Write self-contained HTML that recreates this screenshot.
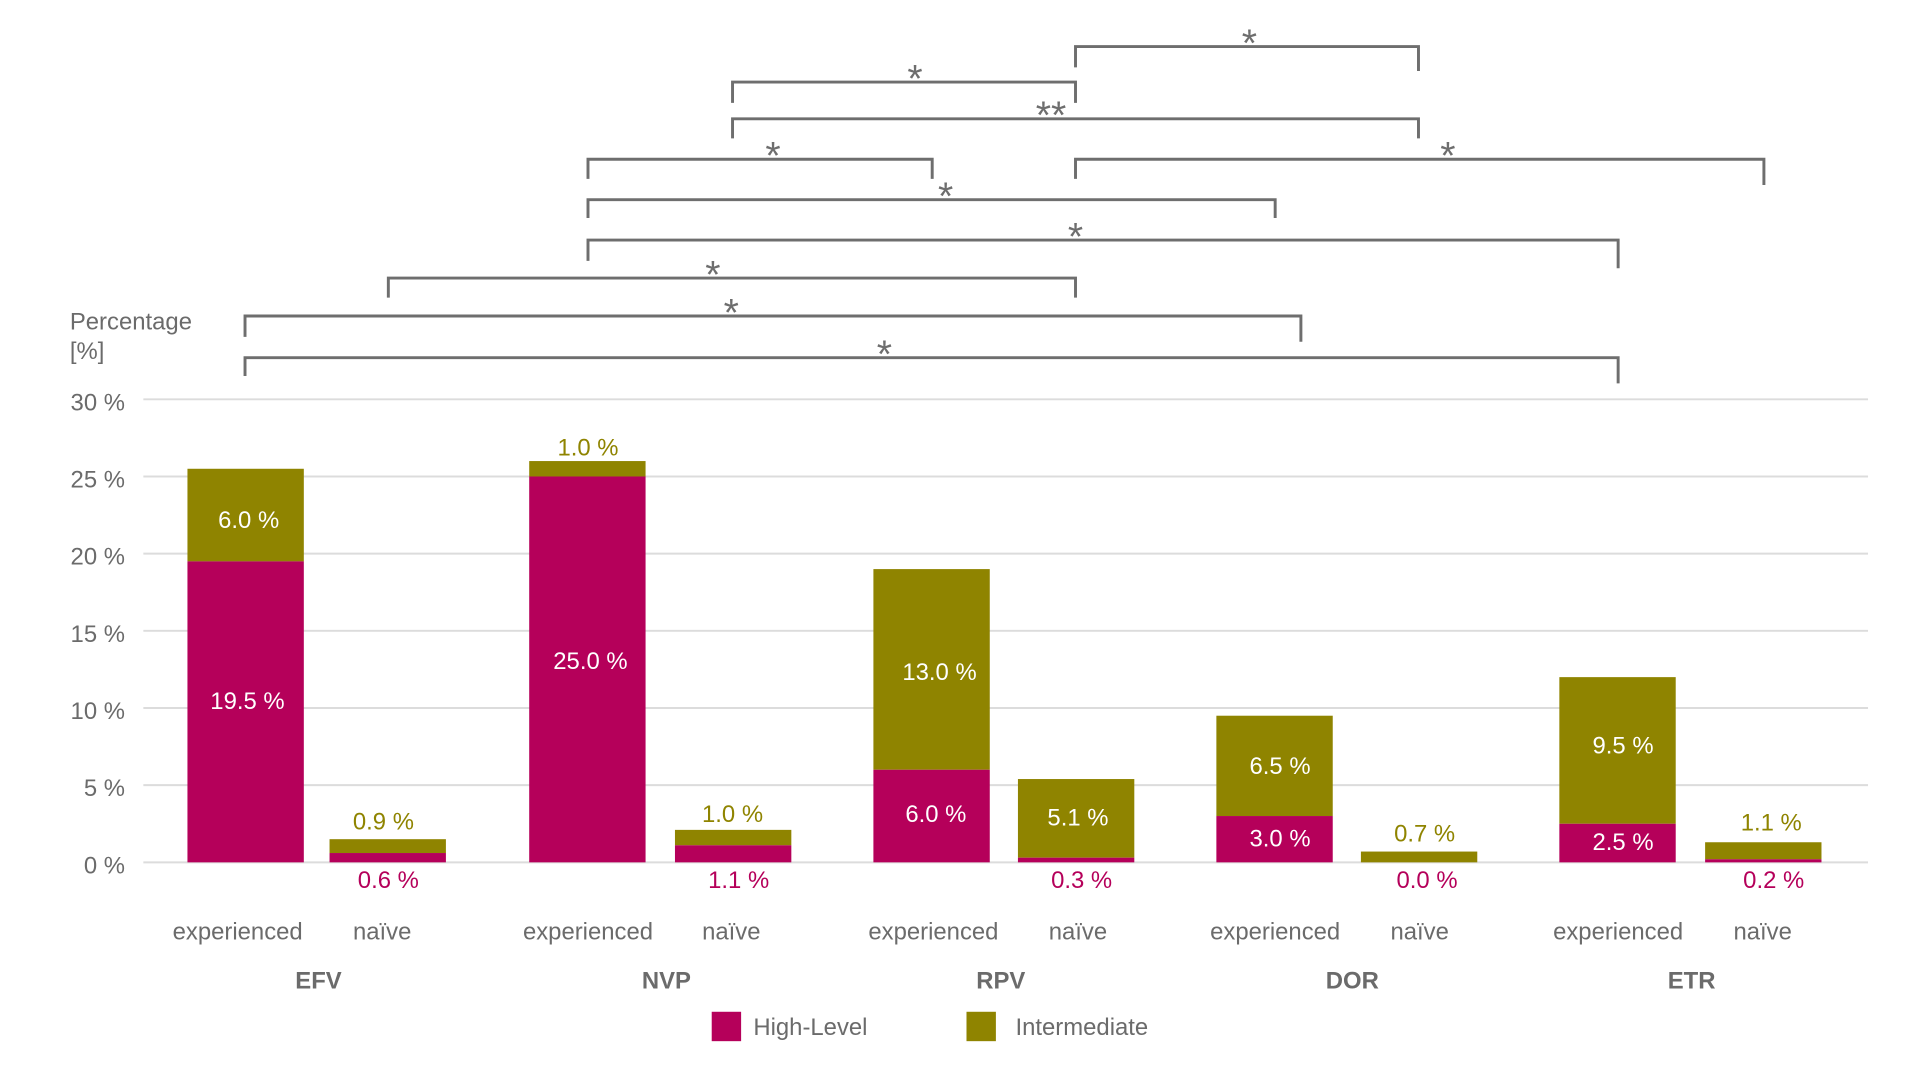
<!DOCTYPE html>
<html><head><meta charset="utf-8"><style>
html,body{margin:0;padding:0;background:#fff;width:1920px;height:1080px;overflow:hidden}
svg{display:block}
text{font-family:"Liberation Sans","DejaVu Sans",sans-serif}
</style></head><body>
<svg width="1920" height="1080" viewBox="0 0 1567.4 881.7" xmlns="http://www.w3.org/2000/svg">
<g stroke="#dcdcdc" stroke-width="1.6">
<line x1="117" x2="1525" y1="326" y2="326"/><line x1="117" x2="1525" y1="389" y2="389"/>
<line x1="117" x2="1525" y1="452" y2="452"/><line x1="117" x2="1525" y1="515" y2="515"/>
<line x1="117" x2="1525" y1="578" y2="578"/><line x1="117" x2="1525" y1="641" y2="641"/>
<line x1="117" x2="1525" y1="704" y2="704"/>
</g>
<g fill="#6b6b6b" font-size="19.5" text-anchor="end">
<text x="102" y="335">30 %</text><text x="102" y="398">25 %</text><text x="102" y="461">20 %</text>
<text x="102" y="524">15 %</text><text x="102" y="587">10 %</text><text x="102" y="650">5 %</text><text x="102" y="713">0 %</text>
</g>
<text x="57" y="269" fill="#6b6b6b" font-size="19.5">Percentage</text>
<text x="57" y="293" fill="#6b6b6b" font-size="19.5">[%]</text>
<g fill="#8f8400">
<rect x="153" y="382.7" width="95" height="75.6"/><rect x="269" y="685.1" width="95" height="11.3"/>
<rect x="432" y="376.4" width="95" height="12.6"/><rect x="551" y="677.5" width="95" height="12.6"/>
<rect x="713" y="464.6" width="95" height="163.8"/><rect x="831" y="636" width="95" height="64.2"/>
<rect x="993" y="584.3" width="95" height="81.9"/><rect x="1111" y="695.2" width="95" height="8.8"/>
<rect x="1273" y="552.8" width="95" height="119.7"/><rect x="1392" y="687.6" width="95" height="13.9"/>
</g>
<g fill="#b5005a">
<rect x="153" y="458.3" width="95" height="245.7"/><rect x="269" y="696.4" width="95" height="7.6"/>
<rect x="432" y="389" width="95" height="315"/><rect x="551" y="690.1" width="95" height="13.9"/>
<rect x="713" y="628.4" width="95" height="75.6"/><rect x="831" y="700.2" width="95" height="3.8"/>
<rect x="993" y="666.2" width="95" height="37.8"/>
<rect x="1273" y="672.5" width="95" height="31.5"/><rect x="1392" y="701.5" width="95" height="2.5"/>
</g>
<g font-size="19.5" text-anchor="middle">
<g fill="#fff">
<text x="203" y="431">6.0 %</text><text x="202" y="579">19.5 %</text>
<text x="482" y="546">25.0 %</text>
<text x="767" y="555">13.0 %</text><text x="764" y="671">6.0 %</text><text x="880" y="674">5.1 %</text>
<text x="1045" y="632">6.5 %</text><text x="1045" y="691">3.0 %</text>
<text x="1325" y="615">9.5 %</text><text x="1325" y="694">2.5 %</text>
</g>
<g fill="#8f8400">
<text x="313" y="677">0.9 %</text><text x="480" y="372">1.0 %</text><text x="598" y="671">1.0 %</text>
<text x="1163" y="687">0.7 %</text><text x="1446" y="678">1.1 %</text>
</g>
<g fill="#b5005a">
<text x="317" y="725">0.6 %</text><text x="603" y="725">1.1 %</text><text x="883" y="725">0.3 %</text>
<text x="1165" y="725">0.0 %</text><text x="1448" y="725">0.2 %</text>
</g>
<g fill="#6b6b6b">
<text x="194" y="767">experienced</text><text x="312" y="767">naïve</text>
<text x="480" y="767">experienced</text><text x="597" y="767">naïve</text>
<text x="762" y="767">experienced</text><text x="880" y="767">naïve</text>
<text x="1041" y="767">experienced</text><text x="1159" y="767">naïve</text>
<text x="1321" y="767">experienced</text><text x="1439" y="767">naïve</text>
</g>
<g fill="#6b6b6b" font-weight="bold">
<text x="260" y="807">EFV</text><text x="544" y="807">NVP</text><text x="817" y="807">RPV</text>
<text x="1104" y="807">DOR</text><text x="1381" y="807">ETR</text>
</g>
</g>
<rect x="581" y="826" width="24" height="24" fill="#b5005a"/>
<text x="615" y="845" fill="#6b6b6b" font-size="19.5">High-Level</text>
<rect x="789" y="826" width="24" height="24" fill="#8f8400"/>
<text x="829" y="845" fill="#6b6b6b" font-size="19.5">Intermediate</text>
<g fill="none" stroke="#6e6e6e" stroke-width="2.4">
<polyline points="878,55 878,38 1158,38 1158,58"/>
<polyline points="598,84 598,67 878,67 878,84"/>
<polyline points="598,113 598,97 1158,97 1158,113"/>
<polyline points="480,146 480,130 761,130 761,146"/>
<polyline points="878,146 878,130 1440,130 1440,151"/>
<polyline points="480,178 480,163 1041,163 1041,178"/>
<polyline points="480,213 480,196 1321,196 1321,219"/>
<polyline points="317,243 317,227 878,227 878,243"/>
<polyline points="200,275 200,258 1062,258 1062,279"/>
<polyline points="200,307 200,292 1321,292 1321,313"/>
</g>
<g fill="#6e6e6e" font-size="32" text-anchor="middle">
<text x="1020" y="46">*</text><text x="747" y="75">*</text><text x="858" y="105">**</text>
<text x="631" y="138">*</text><text x="1182" y="138">*</text><text x="772" y="171">*</text>
<text x="878" y="204">*</text><text x="582" y="235">*</text><text x="597" y="266">*</text><text x="722" y="300">*</text>
</g>
</svg>
</body></html>
